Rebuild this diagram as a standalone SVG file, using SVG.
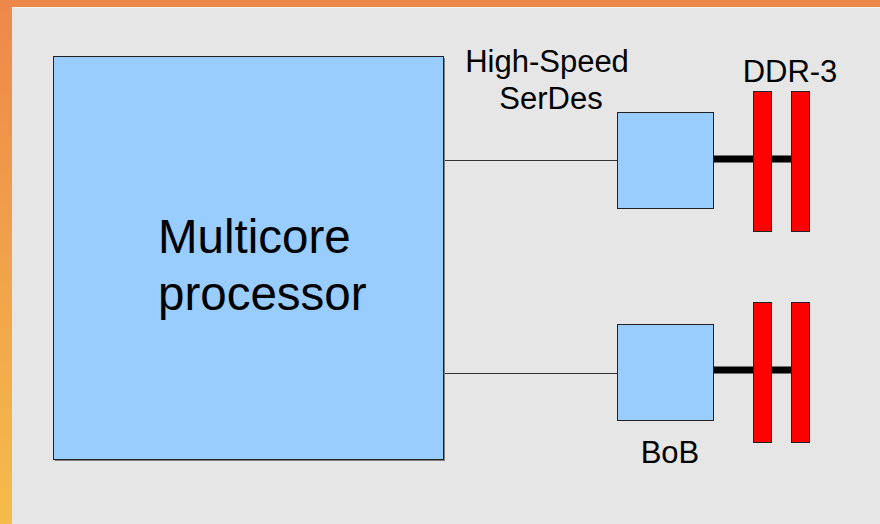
<svg xmlns="http://www.w3.org/2000/svg" width="880" height="524" viewBox="0 0 880 524">
  <style>
    .lbl { font-family: "Liberation Sans", Arial, sans-serif; fill: #000; }
    .blue { fill: #99ccff; stroke: #222; stroke-width: 1; }
    .shadow { fill: #808080; }
    .chip { fill: #ff0000; stroke: #222; stroke-width: 1; }
    .link { stroke: #333; stroke-width: 1; fill: none; }
    .bus { stroke: #000; stroke-width: 7; fill: none; }
  </style>
  <defs>
    <linearGradient id="edge" x1="0" y1="0" x2="0" y2="1">
      <stop offset="0" stop-color="#ee884a"/>
      <stop offset="1" stop-color="#f5bc4a"/>
    </linearGradient>
  </defs>

  <!-- frame and panel -->
  <rect x="0" y="0" width="880" height="524" fill="url(#edge)"/>
  <rect x="0" y="0" width="880" height="7" fill="#ee884a"/>
  <rect x="12" y="7" width="868" height="517" fill="#e6e6e6"/>
  <line x1="12" y1="7.5" x2="880" y2="7.5" stroke="#f2f2f2" stroke-width="1"/>

  <!-- connectors -->
  <g id="connectors">
    <line class="link" x1="443" y1="160.5" x2="617" y2="160.5"/>
    <line class="link" x1="443" y1="373.5" x2="617" y2="373.5"/>
    <line class="bus" x1="714" y1="159" x2="791" y2="159"/>
    <line class="bus" x1="714" y1="370" x2="791" y2="370"/>
  </g>

  <!-- processor -->
  <g id="processor">
    <rect class="shadow" x="55" y="58" width="390" height="403"/>
    <rect class="blue" x="53.5" y="56.5" width="390" height="403"/>
    <text class="lbl" x="158" y="253" font-size="47.5">Multicore</text>
    <text class="lbl" x="158" y="310" font-size="47.5">processor</text>
  </g>

  <!-- SerDes label -->
  <g id="serdes-label">
    <text class="lbl" x="547" y="72" font-size="31" text-anchor="middle">High-Speed</text>
    <text class="lbl" x="551" y="109" font-size="31" text-anchor="middle">SerDes</text>
  </g>

  <!-- buffer-on-board chips -->
  <g id="bob-top">
    <rect class="blue" x="617.5" y="112.5" width="96" height="96"/>
  </g>
  <g id="bob-bottom">
    <rect class="blue" x="617.5" y="324.5" width="96" height="96"/>
    <text class="lbl" x="670" y="463" font-size="31" text-anchor="middle">BoB</text>
  </g>

  <!-- DDR-3 DIMMs -->
  <g id="ddr-top">
    <rect class="chip" x="753.5" y="91.5" width="18" height="140"/>
    <rect class="chip" x="791.5" y="91.5" width="18" height="140"/>
    <text class="lbl" x="790" y="82" font-size="31" text-anchor="middle">DDR-3</text>
  </g>
  <g id="ddr-bottom">
    <rect class="chip" x="753.5" y="302.5" width="18" height="140"/>
    <rect class="chip" x="791.5" y="302.5" width="18" height="140"/>
  </g>
</svg>
